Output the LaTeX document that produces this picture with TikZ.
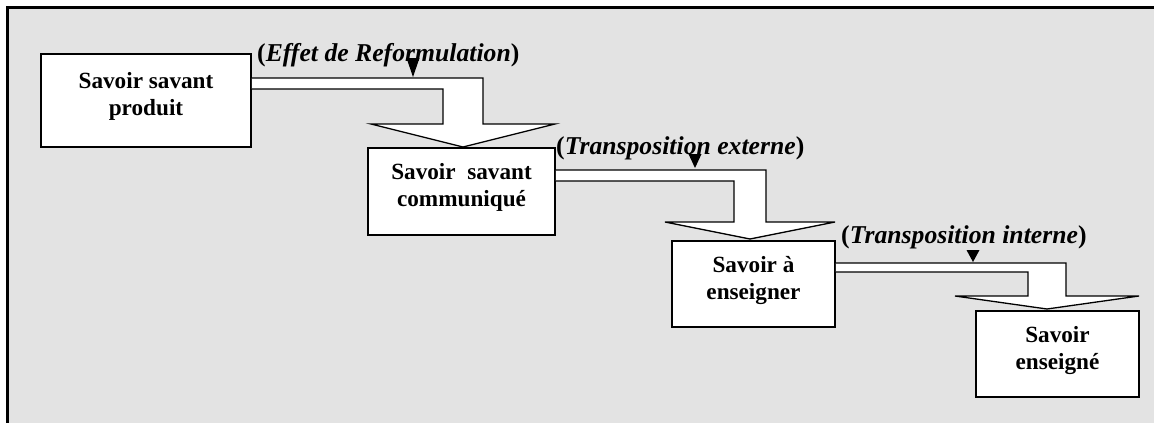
\documentclass[tikz,border=0pt]{standalone}
\usepackage{fontspec}
\setmainfont{Liberation Serif}
\usetikzlibrary{calc}
\definecolor{bggray}{RGB}{227,227,227}
\begin{document}
\begin{tikzpicture}[x=1pt,y=-1pt,
  box/.style={draw, line width=1.5pt, fill=white, inner sep=0pt, align=center,
    text depth=13pt, font=\fontsize{23.2}{27}\selectfont\bfseries},
  lab/.style={anchor=base west, inner sep=0pt,
    font=\fontsize{25.7}{30}\selectfont\bfseries},
  blockarrow/.style={draw, line width=1.3pt, fill=white, line join=miter},
  marker/.style={fill=black}]
\useasboundingbox (0,0) rectangle (1154,423);
\fill[bggray] (8,8) rectangle (1154,423);
\draw[line width=2.2pt] (7.5,423) -- (7.5,7.5) -- (1154,7.5);

\node[box, minimum width=210pt, minimum height=93pt] (b1) at (146,100.5) {Savoir savant\\produit};
\node[box, minimum width=187pt, minimum height=87pt] (b2) at (461.5,191.5) {Savoir\hspace{0.5em}savant\\communiqué};
\node[box, minimum width=163pt, minimum height=86pt] (b3) at (753.5,284) {Savoir à\\enseigner};
\node[box, minimum width=163pt, minimum height=86pt] (b4) at (1057.5,354) {Savoir\\enseigné};

\filldraw[blockarrow] (b1.east |- 0,78) -- (483,78) -- (483,124) -- (555,124) -- (463,147)
  -- (371,124) -- (443,124) -- (443,89) -- (b1.east |- 0,89);
\filldraw[blockarrow] (b2.east |- 0,170) -- (766,170) -- (766,222) -- (835,222) -- (750,239)
  -- (665,222) -- (734,222) -- (734,181) -- (b2.east |- 0,181);
\filldraw[blockarrow] (b3.east |- 0,263) -- (1066,263) -- (1066,296) -- (1139,296) -- (1047,309)
  -- (955,296) -- (1028,296) -- (1028,272) -- (b3.east |- 0,272);

\node[lab] (l1) at (257,61) {(\textit{Effet de Reformulation})};
\node[lab] (l2) at (556,154) {(\textit{Transposition externe})};
\node[lab] (l3) at (841,243) {(\textit{Transposition interne})};

\coordinate (m1) at (413,77);
\coordinate (m2) at (695,168);
\coordinate (m3) at (973,262);
\fill[marker] (m1) -- ++(-6.5,-19) -- ++(13,0) -- cycle;
\fill[marker] (m2) -- ++(-6.5,-14) -- ++(13,0) -- cycle;
\fill[marker] (m3) -- ++(-6.5,-12) -- ++(13,0) -- cycle;
\end{tikzpicture}
\end{document}
